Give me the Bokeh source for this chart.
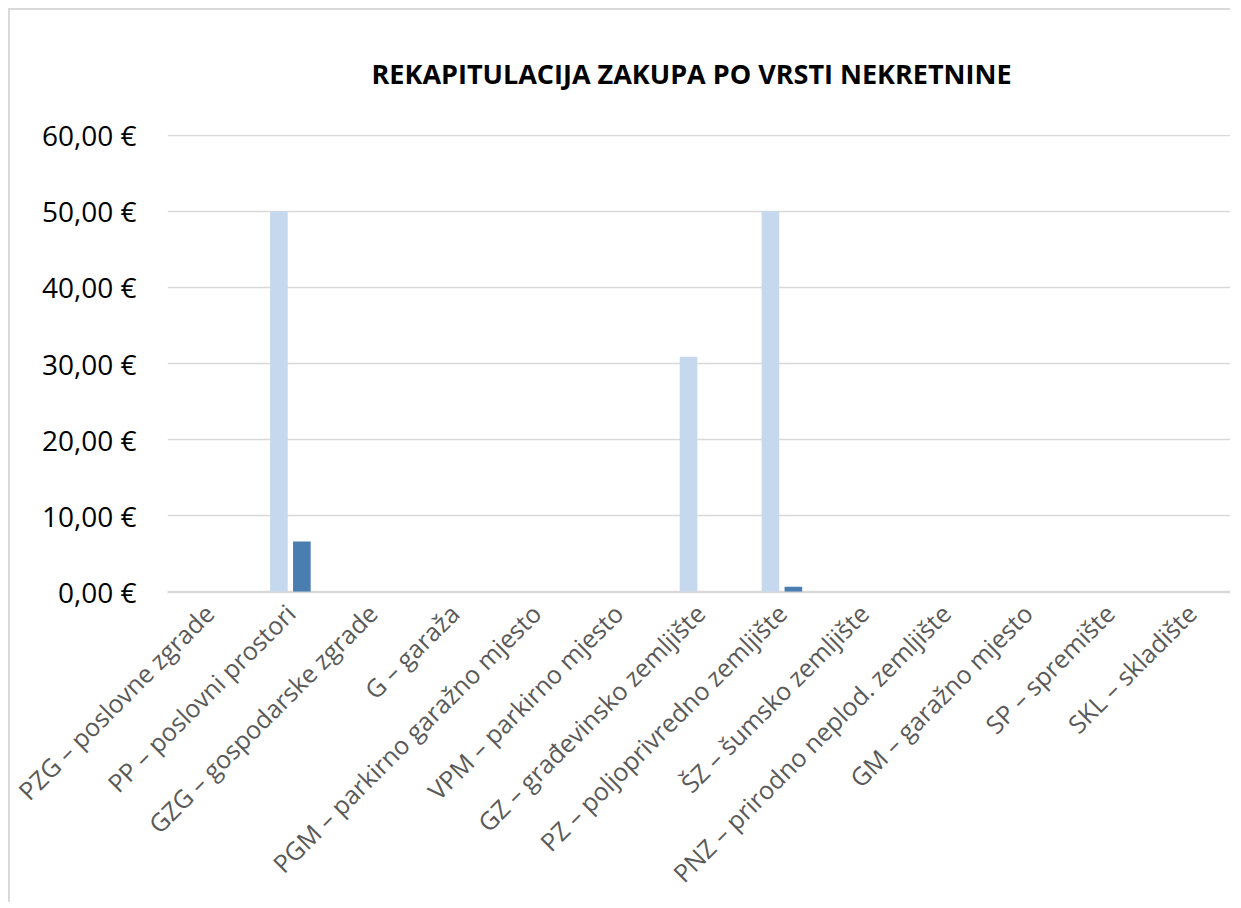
from bokeh.plotting import figure
from bokeh.models import (ColumnDataSource, FactorRange, FixedTicker, CustomJSTickFormatter, Range1d)
from bokeh.transform import dodge
from bokeh.embed import file_html
from bokeh.resources import INLINE
from math import pi

categories = [
    "PZG – poslovne zgrade",
    "PP – poslovni prostori",
    "GZG – gospodarske zgrade",
    "G – garaža",
    "PGM – parkirno garažno mjesto",
    "VPM – parkirno mjesto",
    "GZ – građevinsko zemljište",
    "PZ – poljoprivredno zemljište",
    "ŠZ – šumsko zemljište",
    "PNZ – prirodno neplod. zemljište",
    "GM – garažno mjesto",
    "SP – spremište",
    "SKL – skladište",
]
series_a = [0, 50, 0, 0, 0, 0, 30.9, 50, 0, 0, 0, 0, 0]
series_b = [0, 6.6, 0, 0, 0, 0, 0, 0.65, 0, 0, 0, 0, 0]
y_ticks = [0, 10, 20, 30, 40, 50, 60]
title_text = "REKAPITULACIJA ZAKUPA PO VRSTI NEKRETNINE"

src = ColumnDataSource(data=dict(cat=categories, a=series_a, b=series_b))

p = figure(
    x_range=FactorRange(*categories, range_padding=0),
    y_range=Range1d(-0.1, 60.1),
    width=1222, height=894,
    output_backend="svg", toolbar_location=None,
    min_border_left=157, min_border_right=0,
    min_border_top=123, min_border_bottom=300,
    title=title_text,
)
p.styles = {"margin-left": "8px", "margin-top": "8px",
            "border-left": "2px solid #d9d9d9", "border-top": "2px solid #d9d9d9"}

p.vbar(x=dodge("cat", -0.14, range=p.x_range), top="a", width=0.215, source=src,
       fill_color="#c6d8ed", line_color=None)
p.vbar(x=dodge("cat", 0.14, range=p.x_range), top="b", width=0.215, source=src,
       fill_color="#4a7db0", line_color=None)

p.title.align = "left"
p.title.offset = 204
p.title.text_font = "Open Sans"
p.title.text_font_style = "bold"
p.title.text_font_size = "27px"
p.title.text_color = "#000000"
p.title.standoff = 85

p.outline_line_color = None
p.background_fill_color = "white"
p.border_fill_color = "white"

p.xgrid.grid_line_color = None
p.ygrid.grid_line_color = "#d9d9d9"
p.ygrid.grid_line_width = 1.5

p.yaxis.ticker = FixedTicker(ticks=y_ticks)
p.yaxis.formatter = CustomJSTickFormatter(code="return tick.toFixed(2).replace('.', ',') + ' €';")
p.yaxis.axis_line_color = None
p.yaxis.major_tick_line_color = None
p.yaxis.minor_tick_line_color = None
p.yaxis.major_label_text_font = "Open Sans"
p.yaxis.major_label_text_font_size = "28px"
p.yaxis.major_label_text_color = "#000000"
p.yaxis.major_label_standoff = 25

p.xaxis.axis_line_color = "#d9d9d9"
p.xaxis.axis_line_width = 1.5
p.xaxis.major_tick_line_color = None
p.xaxis.minor_tick_line_color = None
p.xaxis.major_label_orientation = pi / 4
p.xaxis.major_label_text_font = "Open Sans"
p.xaxis.major_label_text_font_size = "25px"
p.xaxis.major_label_text_color = "#595959"
p.xaxis.major_label_standoff = 10

open("out.html", "w").write(file_html(p, INLINE))
